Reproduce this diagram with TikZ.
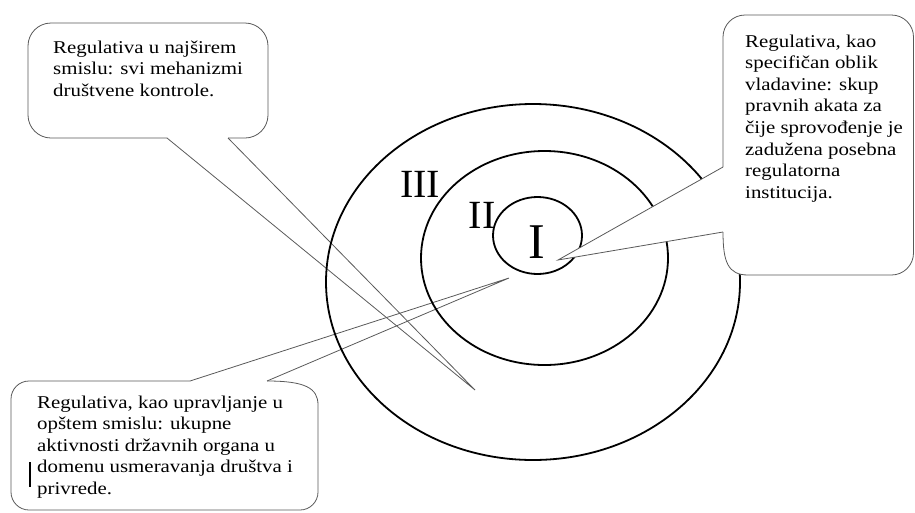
\documentclass[tikz,border=0pt]{standalone}
\usepackage{fontspec}
\setmainfont{Liberation Serif}[FakeStretch=1.16]
\newfontfamily\ringfont{Liberation Serif}
\tikzset{
  ring/.style={line width=1.8pt},
  bubble/.style={draw=black!65, line width=0.8pt},
  bubbletext/.style={anchor=north west, inner sep=0pt, align=left,
    font=\fontsize{18}{21.6}\selectfont, text=black},
  ringlabel/.style={anchor=base, inner sep=0pt, font=\ringfont\fontsize{40}{40}\selectfont},
}
\begin{document}
\begin{tikzpicture}[x=1pt,y=-1pt]
    \useasboundingbox (0,0) rectangle (915,512);
    % vrhovi oblacica
    \coordinate (tipA) at (475,390);
    \coordinate (tipB) at (558,260);
    \coordinate (tipC) at (509,278);
    % oblacic gore levo
    \draw[bubble,rounded corners=23pt] (167,138) -- (28,138) -- (28,23) -- (268,23) -- (268,138) -- (228,138);
    \draw[bubble] (167,138) -- (tipA) -- (228,138);
    \node[bubbletext] (textA) at (53,40.5) {Regulativa u najširem\\smislu: svi mehanizmi\\društvene kontrole.};
    % oblacic dole levo
    \draw[bubble] (267,381) .. controls (305,381) and (318,388) .. (318,405) [rounded corners=18pt] -- (318,510) -- (11,510) -- (11,381) -- (190,381);
    \draw[bubble] (190,381) -- (tipC) -- (267,381);
    \node[bubbletext] (textC) at (37,395.5) {Regulativa, kao upravljanje u\\opštem smislu: ukupne\\aktivnosti državnih organa u\\domenu usmeravanja društva i\\privrede.};
    \draw[line width=1.5pt] (30,462) -- (30,487);
    % krugovi
    \draw[ring] (533,282) ellipse [x radius=207, y radius=178];
    \draw[ring] (544.5,258) ellipse [x radius=123.5, y radius=107];
    \draw[ring] (537.5,235.5) ellipse [x radius=44.5, y radius=38.5];
    \node[ringlabel] (lblIII) at (420,197) {III};
    \node[ringlabel] (lblII) at (482,228) {II};
    \node[ringlabel, font=\ringfont\fontsize{50}{50}\selectfont] (lblI) at (537,258) {I};
    % oblacic desno
    \fill[white] (tipB) -- (723,167) -- (723,232) -- cycle;
    \fill[white] (723,232) .. controls (723,262) and (728,275) .. (748,275) [rounded corners=22pt] -- (913.5,275) -- (913.5,15) -- (723,15) -- cycle;
    \draw[bubble] (723,232) .. controls (723,262) and (728,275) .. (748,275) [rounded corners=22pt] -- (913.5,275) -- (913.5,15) -- (723,15) -- (723,167);
    \draw[bubble] (723,167) -- (tipB) -- (723,232);
    \node[bubbletext] (textB) at (745,34.5) {Regulativa, kao\\specifičan oblik\\vladavine: skup\\pravnih akata za\\čije sprovođenje je\\zadužena posebna\\regulatorna\\institucija.};
\end{tikzpicture}
\end{document}
